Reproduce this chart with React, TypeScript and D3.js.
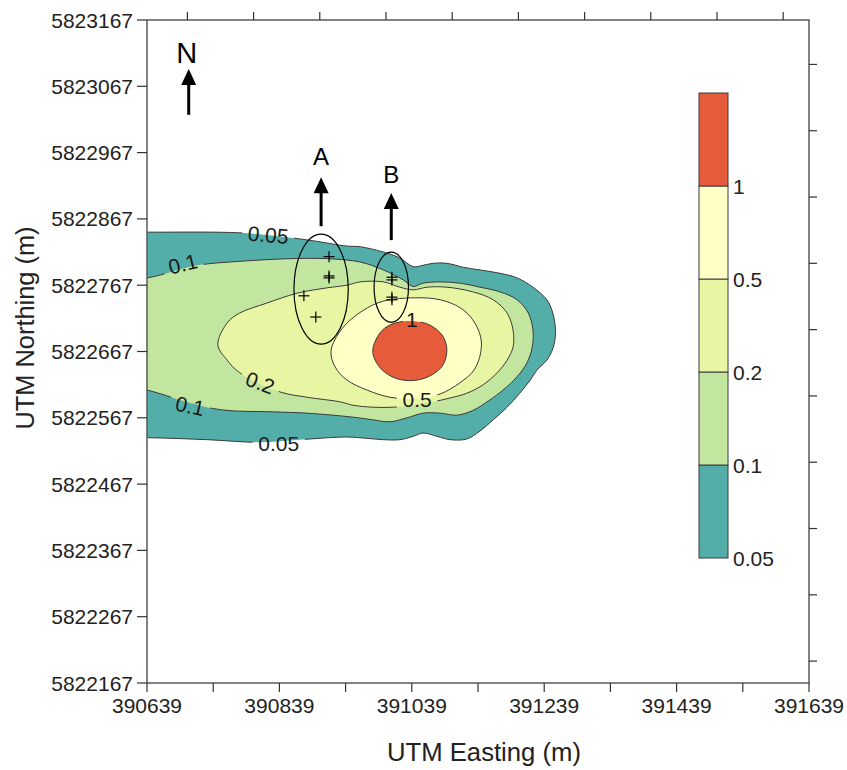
import React, { useEffect } from "react";
import * as d3 from "d3";

type Pt = [number, number];

// contour levels, bottom to top, and their fills
const levels = ["0.05", "0.1", "0.2", "0.5", "1"];
const levelColors = ["#53aea9", "#c2e6a0", "#e8f5a2", "#ffffc6", "#e65c3a"];

// axis ticks (UTM, m)
const xTicks = d3.range(390639, 391640, 100);
const yTicks = d3.range(5822167, 5823168, 100);
const topTicks = d3.range(390700, 391639, 100);
const rightTicks = d3.range(5822200, 5823167, 100);

// contour outlines (easting, northing)
const contour005: Pt[] = [
  [390560, 5822847], [390639, 5822847], [390779, 5822846], [390844, 5822840],
  [390890, 5822834], [390941, 5822826], [390961, 5822825], [390996, 5822817],
  [391021, 5822808], [391041, 5822795], [391056, 5822797], [391071, 5822800],
  [391092, 5822800], [391117, 5822794], [391142, 5822790], [391172, 5822785],
  [391198, 5822778], [391222, 5822764], [391243, 5822745], [391252, 5822725],
  [391256, 5822699], [391253, 5822674], [391243, 5822654], [391228, 5822639],
  [391218, 5822624], [391202, 5822604], [391183, 5822583], [391162, 5822564],
  [391142, 5822547], [391122, 5822535], [391097, 5822534], [391077, 5822539],
  [391056, 5822544], [391041, 5822539], [391021, 5822534], [390996, 5822534],
  [390971, 5822536], [390941, 5822538], [390870, 5822534], [390810, 5822530],
  [390730, 5822534], [390639, 5822537], [390560, 5822537],
];

const contour01: Pt[] = [
  [390560, 5822770], [390639, 5822778], [390669, 5822785], [390715, 5822797],
  [390779, 5822803], [390855, 5822807], [390911, 5822807], [390961, 5822802],
  [390996, 5822790], [391026, 5822775], [391041, 5822765], [391056, 5822770],
  [391082, 5822772], [391112, 5822770], [391142, 5822764], [391172, 5822757],
  [391198, 5822745], [391215, 5822725], [391222, 5822699], [391221, 5822674],
  [391213, 5822650], [391198, 5822629], [391177, 5822609], [391157, 5822594],
  [391131, 5822578], [391107, 5822571], [391082, 5822574], [391056, 5822574],
  [391032, 5822567], [391006, 5822561], [390980, 5822564], [390950, 5822568],
  [390881, 5822574], [390829, 5822576], [390751, 5822579], [390699, 5822591],
  [390639, 5822609], [390560, 5822625],
];

const contour02: Pt[] = [
  [390746, 5822677], [390760, 5822710], [390779, 5822725], [390820, 5822740],
  [390866, 5822755], [390911, 5822763], [390941, 5822767], [390961, 5822772],
  [390996, 5822772], [391021, 5822764], [391041, 5822760], [391062, 5822764],
  [391092, 5822764], [391131, 5822757], [391162, 5822745], [391183, 5822725],
  [391192, 5822699], [391192, 5822674], [391183, 5822654], [391168, 5822635],
  [391147, 5822617], [391122, 5822604], [391097, 5822597], [391071, 5822591],
  [391041, 5822586], [391011, 5822583], [390980, 5822583], [390950, 5822586],
  [390931, 5822591], [390881, 5822598], [390840, 5822606], [390779, 5822635],
  [390760, 5822654],
];

const contour05: Pt[] = [
  [390917, 5822668], [390934, 5822702], [390964, 5822728], [390996, 5822743],
  [391045, 5822748], [391082, 5822745], [391112, 5822733], [391131, 5822715],
  [391143, 5822689], [391143, 5822665], [391133, 5822639], [391112, 5822620],
  [391082, 5822603], [391047, 5822596], [391006, 5822598], [390971, 5822609],
  [390941, 5822624], [390923, 5822644],
];

const contour1: Pt[] = [
  [390980, 5822668], [390991, 5822695], [391006, 5822707], [391036, 5822713],
  [391066, 5822707], [391086, 5822690], [391092, 5822668], [391085, 5822645],
  [391064, 5822629], [391036, 5822623], [391009, 5822629], [390989, 5822645],
];

const contours = [contour005, contour01, contour02, contour05, contour1];

// contour labels: text, easting, northing, rotation
const labelText = ["0.05", "0.1", "0.2", "0.1", "0.05", "0.5", "1"];
const labelE = [390822, 390693, 390810, 390704, 390838, 391047, 391039];
const labelN = [5822843, 5822799, 5822620, 5822585, 5822529, 5822594, 5822715];
const labelRot = [5, -14, 20, 12, 0, 0, 0];

// sampling points (+) and the two groups
const crossE = [390914, 390914, 390914, 390876, 390894, 391009, 391009, 391009, 391009];
const crossN = [5822810, 5822781, 5822778, 5822751, 5822719, 5822779, 5822775, 5822749, 5822745];
const groupName = ["A", "B"];
const groupE = [390902, 391008];
const groupN = [5822761, 5822764];
const groupRx = [41, 26];
const groupRy = [83, 53];
const arrowTail = [5822856, 5822835];
const arrowTip = [5822930, 5822906];
const arrowLabelN = [5822948, 5822921];

// north arrow
const northE = 390702;
const northTail = 5823024;
const northTip = 5823093;
const northLabelN = 5823102;

const W = 847;
const H = 770;
const left = 147, right = 809, top = 20, bottom = 683;
const font = "'Liberation Sans', Arial, sans-serif";

export default function App() {
  useEffect(() => {
    document.body.style.margin = "0";
  }, []);

  const x = d3.scaleLinear().domain([390639, 391639]).range([left, right]);
  const y = d3.scaleLinear().domain([5822167, 5823167]).range([bottom, top]);

  const line = d3
    .line<Pt>()
    .x((d) => x(d[0]))
    .y((d) => y(d[1]))
    .curve(d3.curveCatmullRomClosed.alpha(0.5));

  // colour bar
  const barY = d3.scaleBand<string>().domain([...levels].reverse()).range([93, 558]).padding(0);
  const barX = 699, barW = 29;

  const arrow = (ax: number, tailY: number, tipY: number, key: string) => (
    <g key={key}>
      <line x1={ax} x2={ax} y1={tailY} y2={tipY + 14} stroke="#000" strokeWidth={3} />
      <path d={`M${ax},${tipY} L${ax - 7.5},${tipY + 16} L${ax + 7.5},${tipY + 16} Z`} fill="#000" />
    </g>
  );

  return (
    <svg width={W} height={H} style={{ display: "block", background: "#fff" }} fontFamily={font}>
      <defs>
        <clipPath id="plotClip">
          <rect x={left} y={top} width={right - left} height={bottom - top} />
        </clipPath>
        <mask id="labelMask" maskUnits="userSpaceOnUse" x={0} y={0} width={W} height={H}>
          <rect x={0} y={0} width={W} height={H} fill="#fff" />
          {labelText.map((t, i) => {
            const w = t.length * 11.5 + 6;
            return (
              <rect
                key={i}
                x={-w / 2}
                y={-10}
                width={w}
                height={20}
                fill="#000"
                transform={`translate(${x(labelE[i])},${y(labelN[i])}) rotate(${labelRot[i]})`}
              />
            );
          })}
        </mask>
      </defs>

      {/* filled contours */}
      <g clipPath="url(#plotClip)">
        {contours.map((c, i) => (
          <path key={"f" + i} d={line(c) || ""} fill={levelColors[i]} stroke="none" />
        ))}
        <g mask="url(#labelMask)">
          {contours.map((c, i) => (
            <path key={"s" + i} d={line(c) || ""} fill="none" stroke="#3a3a3a" strokeWidth={1} />
          ))}
        </g>
      </g>

      {/* contour labels */}
      {labelText.map((t, i) => (
        <text
          key={"l" + i}
          transform={`translate(${x(labelE[i])},${y(labelN[i])}) rotate(${labelRot[i]})`}
          textAnchor="middle"
          dy="0.36em"
          fontSize={21}
          fill="#1a1a1a"
        >
          {t}
        </text>
      ))}

      {/* sampling groups */}
      {groupName.map((g, i) => (
        <ellipse
          key={"e" + i}
          cx={x(groupE[i])}
          cy={y(groupN[i])}
          rx={x(groupE[i] + groupRx[i]) - x(groupE[i])}
          ry={y(groupN[i]) - y(groupN[i] + groupRy[i])}
          fill="none"
          stroke="#000"
          strokeWidth={1.2}
        />
      ))}
      {crossE.map((e, i) => (
        <g key={"c" + i} stroke="#000" strokeWidth={1.2}>
          <line x1={x(e) - 5.5} x2={x(e) + 5.5} y1={y(crossN[i])} y2={y(crossN[i])} />
          <line x1={x(e)} x2={x(e)} y1={y(crossN[i]) - 5.5} y2={y(crossN[i]) + 5.5} />
        </g>
      ))}
      {groupName.map((g, i) => (
        <g key={"a" + i}>
          {arrow(x(groupE[i]), y(arrowTail[i]), y(arrowTip[i]), "ar" + i)}
          <text x={x(groupE[i])} y={y(arrowLabelN[i])} textAnchor="middle" fontSize={24} fill="#000">
            {g}
          </text>
        </g>
      ))}

      {/* north arrow */}
      {arrow(x(northE), y(northTail), y(northTip), "north")}
      <text x={x(northE) - 2} y={y(northLabelN)} textAnchor="middle" fontSize={29} fill="#000">
        N
      </text>

      {/* frame */}
      <rect x={left} y={top} width={right - left} height={bottom - top} fill="none" stroke="#5a5a5a" strokeWidth={1.5} />

      {/* bottom axis */}
      {xTicks.map((t, i) => (
        <g key={"xt" + t}>
          <line x1={x(t)} x2={x(t)} y1={bottom} y2={bottom + 9} stroke="#333" strokeWidth={1.2} />
          {i % 2 === 0 && (
            <text x={x(t)} y={713} textAnchor="middle" fontSize={21} fill="#222">
              {t}
            </text>
          )}
        </g>
      ))}
      {/* left axis */}
      {yTicks.map((t) => (
        <g key={"yt" + t}>
          <line x1={left - 10} x2={left} y1={y(t)} y2={y(t)} stroke="#333" strokeWidth={1.2} />
          <text x={133} y={y(t)} dy="0.36em" textAnchor="end" fontSize={21} fill="#222">
            {t}
          </text>
        </g>
      ))}
      {/* top and right ticks */}
      {topTicks.map((t) => (
        <line key={"tt" + t} x1={x(t)} x2={x(t)} y1={top - 8} y2={top} stroke="#333" strokeWidth={1.2} />
      ))}
      {rightTicks.map((t) => (
        <line key={"rt" + t} x1={right} x2={right + 8} y1={y(t)} y2={y(t)} stroke="#333" strokeWidth={1.2} />
      ))}

      {/* axis titles */}
      <text x={484} y={761} textAnchor="middle" fontSize={25} fill="#222" textLength={194} lengthAdjust="spacingAndGlyphs">
        UTM Easting (m)
      </text>
      <text
        transform={`translate(34,328) rotate(-90)`}
        textAnchor="middle"
        fontSize={25}
        fill="#222"
        textLength={203}
        lengthAdjust="spacingAndGlyphs"
      >
        UTM Northing (m)
      </text>

      {/* colour bar */}
      {levels.map((lv, i) => (
        <rect
          key={"cb" + lv}
          x={barX}
          y={barY(lv)!}
          width={barW}
          height={barY.bandwidth()}
          fill={levelColors[i]}
          stroke="#3a3a3a"
          strokeWidth={1}
        />
      ))}
      {levels.map((lv) => (
        <text
          key={"cbl" + lv}
          x={barX + barW + 5}
          y={barY(lv)! + barY.bandwidth()}
          dy="0.36em"
          fontSize={21}
          fill="#222"
        >
          {lv}
        </text>
      ))}
    </svg>
  );
}
